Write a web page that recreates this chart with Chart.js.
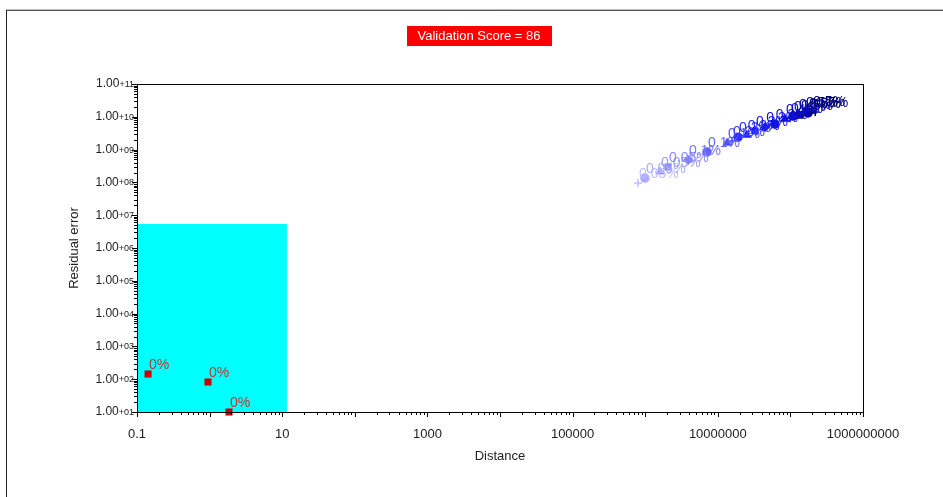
<!DOCTYPE html>
<html>
<head>
<meta charset="utf-8">
<title>Validation</title>
<script src="https://cdn.jsdelivr.net/npm/chart.js@4.4.1/dist/chart.umd.min.js"></script>
<style>
  html, body { margin: 0; padding: 0; background: #fff; }
  #wrap { position: relative; width: 943px; height: 497px; overflow: hidden; }
  #frame {
    position: absolute; left: 6px; top: 10px; width: 1000px; height: 600px;
    border-left: 1px solid #222; border-top: 1px solid #555;
    box-shadow: 0 -1px 0 #bbb;
  }
  canvas { position: absolute; left: 0; top: 0; }
</style>
</head>
<body>
<div id="wrap">
  <div id="frame"></div>
  <canvas id="chart" width="943" height="497"></canvas>
</div>
<script>
// ---------- data ----------
const scoreText = 'Validation Score = 86';

// reference points (red squares)
const refDistance = [0.142, 0.95, 1.85];
const refResidual = [144, 82, 10];
const refTags = ['0%', '0%', '0%'];

// measured points, ordered from lowest to highest distance
const distance = [7.96e5, 9.9e5, 1.6e6, 2.06e6, 3.9e6, 7.1e6, 1.34e7, 1.57e7, 1.9e7, 2.5e7, 3.25e7,
                  4.5e7, 6.1e7, 8.4e7, 9.9e7, 1.09e8, 1.27e8, 1.36e8, 1.59e8, 1.75e8, 1.99e8, 2.2e8];
const residual = [9.6e7, 1.36e8, 2.1e8, 2.95e8, 4.8e8, 8.5e8, 1.6e9, 1.83e9, 2.4e9, 2.8e9, 3.7e9,
                  4.9e9, 6.0e9, 8.5e9, 9.1e9, 1.05e10, 1.22e10, 1.13e10, 1.4e10, 1.31e10, 1.5e10, 1.4e10];
const errorPct = ['0.05%', '0.05%', '0.05%', '0.05%', '0.1%', '0.1%', '0.1%', '0.2%', '0.2%', '0.2%', '0.3%',
                  '0.3%', '0.3%', '0.4%', '0.4%', '0.4%', '0.5%', '0.5%', '0.5%', '0.5%', '0.5%', '0.5%'];

// acceptance zone (cyan)
const zoneDistanceMax = 11.6;
const zoneResidualMax = 5.4e6;

// axis decades
const xDecades = [0.1, 1, 10, 100, 1000, 1e4, 1e5, 1e6, 1e7, 1e8, 1e9];
const yDecades = [1e1, 1e2, 1e3, 1e4, 1e5, 1e6, 1e7, 1e8, 1e9, 1e10, 1e11];

// ---------- styles ----------
const FONT = '"Liberation Sans", Arial, sans-serif';
const markerCycle = ['cross', 'circle', 'triangle', 'rect', 'rectRot', 'circle', 'triangle'];

// light lavender -> blue -> navy along the series
function shade(i, n) {
  const t = n > 1 ? i / (n - 1) : 0;
  const stops = [[0, 190, 190, 255], [0.45, 20, 20, 255], [1, 0, 0, 110]];
  let a = stops[0], b = stops[1];
  if (t > stops[1][0]) { a = stops[1]; b = stops[2]; }
  const k = (t - a[0]) / (b[0] - a[0]);
  const c = [1, 2, 3].map(j => Math.round(a[j] + (b[j] - a[j]) * k));
  return `rgb(${c[0]},${c[1]},${c[2]})`;
}

// ---------- plugins ----------
const scoreBanner = {
  id: 'scoreBanner',
  afterDraw(chart) {
    const ctx = chart.ctx;
    ctx.save();
    ctx.font = '13px ' + FONT;
    const w = ctx.measureText(scoreText).width + 22;
    const cx = 479;
    ctx.fillStyle = '#ff0000';
    ctx.fillRect(Math.round(cx - w / 2), 26, Math.round(w), 20);
    ctx.fillStyle = '#fff';
    ctx.textAlign = 'center';
    ctx.textBaseline = 'middle';
    ctx.fillText(scoreText, cx, 36.5);
    ctx.restore();
  }
};

const zone = {
  id: 'zone',
  beforeDatasetsDraw(chart) {
    const {ctx, scales: {x, y}} = chart;
    const x0 = x.getPixelForValue(x.min), x1 = x.getPixelForValue(zoneDistanceMax);
    const y0 = y.getPixelForValue(y.min), y1 = y.getPixelForValue(zoneResidualMax);
    ctx.save();
    ctx.fillStyle = '#00ffff';
    ctx.fillRect(x0, y1, x1 - x0, y0 - y1);
    ctx.restore();
  }
};

const pointTags = {
  id: 'pointTags',
  afterDatasetsDraw(chart) {
    const ctx = chart.ctx;
    ctx.save();
    ctx.textAlign = 'left';
    ctx.textBaseline = 'bottom';
    chart.data.datasets.forEach((ds, di) => {
      if (!ds.tags) return;
      ctx.font = ds.tagSize + 'px ' + FONT;
      const pts = chart.getDatasetMeta(di).data;
      pts.forEach((pt, i) => {
        ctx.fillStyle = ds.tagColor(i, pts.length);
        ctx.fillText(ds.tags[i], pt.x + 1, pt.y - 2);
      });
    });
    ctx.restore();
  }
};

const axesFrame = {
  id: 'axesFrame',
  afterDraw(chart) {
    const {ctx, chartArea: a, scales: {x, y}} = chart;
    ctx.save();
    ctx.strokeStyle = '#000';
    ctx.lineWidth = 1;
    ctx.strokeRect(Math.round(a.left) + 0.5, Math.round(a.top) + 0.5,
                   Math.round(a.right - a.left), Math.round(a.bottom - a.top));

    // log ticks: long at decades, short at 2..9
    ctx.beginPath();
    for (let e = -1; e < 9; e++) {
      for (let m = 1; m <= 9; m++) {
        const px = Math.round(x.getPixelForValue(m * Math.pow(10, e))) + 0.5;
        const len = m === 1 ? 5 : 3;
        ctx.moveTo(px, a.bottom);
        ctx.lineTo(px, a.bottom + len);
      }
    }
    const px9 = Math.round(x.getPixelForValue(1e9)) + 0.5;
    ctx.moveTo(px9, a.bottom); ctx.lineTo(px9, a.bottom + 5);
    for (let e = 1; e < 11; e++) {
      for (let m = 1; m <= 9; m++) {
        const py = Math.round(y.getPixelForValue(m * Math.pow(10, e))) + 0.5;
        const len = m === 1 ? 5 : 3;
        ctx.moveTo(a.left, py);
        ctx.lineTo(a.left - len, py);
      }
    }
    const py11 = Math.round(y.getPixelForValue(1e11)) + 0.5;
    ctx.moveTo(a.left, py11); ctx.lineTo(a.left - 5, py11);
    ctx.stroke();

    // y labels: mantissa with a small exponent suffix
    ctx.fillStyle = '#222';
    ctx.textBaseline = 'middle';
    ctx.textAlign = 'right';
    yDecades.forEach(v => {
      const e = Math.round(Math.log10(v));
      const mant = (v / Math.pow(10, e)).toFixed(2);
      const suf = '+' + String(e).padStart(2, '0');
      const py = y.getPixelForValue(v);
      const right = a.left - 3;
      ctx.font = '9px ' + FONT;
      const sw = ctx.measureText(suf).width;
      ctx.fillText(suf, right, py + 0.5);
      ctx.font = '12px ' + FONT;
      ctx.fillText(mant, right - sw, py);
    });
    ctx.restore();
  }
};

// ---------- chart ----------
const chart = new Chart(document.getElementById('chart'), {
  type: 'scatter',
  data: {
    datasets: [
      {
        label: 'Reference',
        data: refDistance.map((d, i) => ({x: d, y: refResidual[i]})),
        pointStyle: 'rect',
        pointRadius: 5,
        backgroundColor: '#cc0000',
        borderColor: '#cc0000',
        borderWidth: 0,
        clip: false,
        tags: refTags,
        tagSize: 14,
        tagColor: () => '#c83030'
      },
      {
        label: 'Measured',
        data: distance.map((d, i) => ({x: d, y: residual[i]})),
        pointStyle: ctx => markerCycle[ctx.dataIndex % markerCycle.length],
        pointRadius: 4,
        backgroundColor: ctx => shade(ctx.dataIndex, distance.length),
        borderColor: ctx => shade(ctx.dataIndex, distance.length),
        borderWidth: 1.5,
        tags: errorPct,
        tagSize: 14,
        tagColor: (i, n) => shade(i, n)
      }
    ]
  },
  options: {
    responsive: false,
    animation: false,
    events: [],
    layout: { padding: { top: 84, right: 80, left: 0, bottom: 0 } },
    plugins: { legend: { display: false }, tooltip: { enabled: false } },
    scales: {
      x: {
        type: 'logarithmic',
        min: 0.1,
        max: 1e9,
        afterBuildTicks: s => { s.ticks = xDecades.map(v => ({value: v})); },
        afterFit: s => { s.height = 85; },
        grid: { display: false, drawTicks: false },
        border: { display: false },
        ticks: {
          autoSkip: false,
          maxRotation: 0,
          padding: 15,
          color: '#222',
          font: { family: FONT, size: 13 },
          callback: (v, i) => (i % 2 === 0 ? String(v) : '')
        },
        title: {
          display: true,
          text: 'Distance',
          color: '#222',
          font: { family: FONT, size: 13 },
          padding: { top: 0, bottom: 33 }
        }
      },
      y: {
        type: 'logarithmic',
        min: 10,
        max: 1e11,
        afterBuildTicks: s => { s.ticks = yDecades.map(v => ({value: v})); },
        afterFit: s => { s.width = 137; },
        grid: { display: false, drawTicks: false },
        border: { display: false },
        ticks: { display: false },
        title: {
          display: true,
          text: 'Residual error',
          color: '#222',
          font: { family: FONT, size: 13 },
          padding: { top: 67, bottom: 0 }
        }
      }
    }
  },
  plugins: [zone, pointTags, axesFrame, scoreBanner]
});
</script>
</body>
</html>
